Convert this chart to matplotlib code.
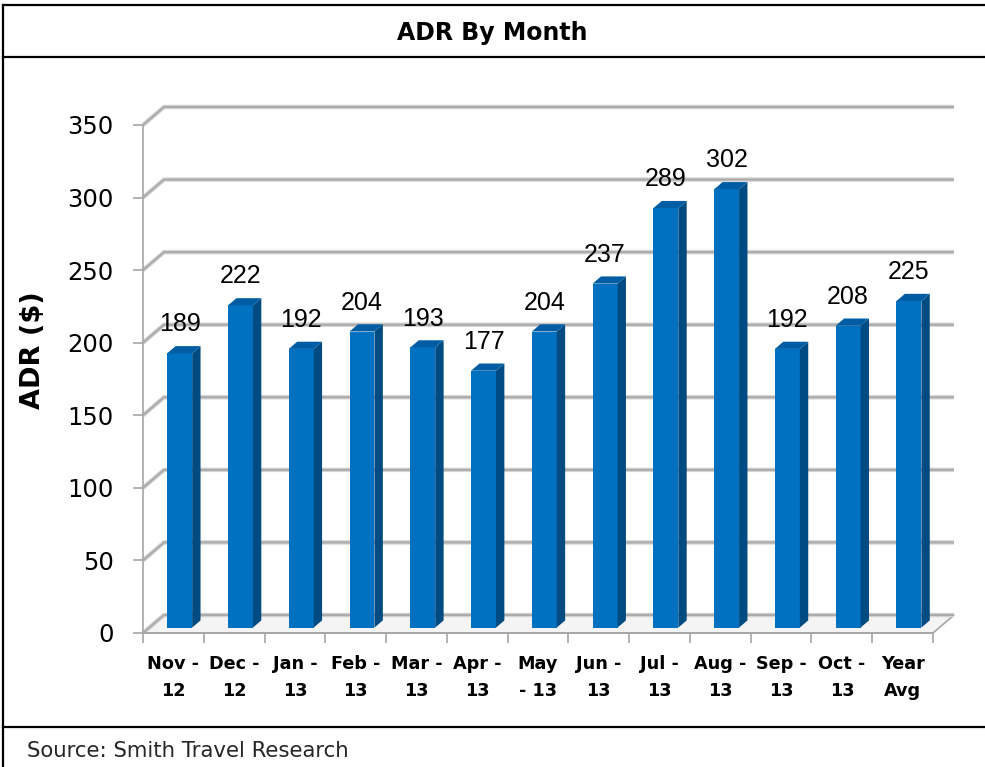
import matplotlib.pyplot as plt
from matplotlib.lines import Line2D
from matplotlib.patches import Polygon
import numpy as np

# data
months = ["Nov -\n12", "Dec -\n12", "Jan -\n13", "Feb -\n13", "Mar -\n13", "Apr -\n13",
          "May\n- 13", "Jun -\n13", "Jul -\n13", "Aug -\n13", "Sep -\n13", "Oct -\n13",
          "Year\nAvg"]
adr = [189, 222, 192, 204, 193, 177, 204, 237, 289, 302, 192, 208, 225]
y_ticks = [0, 50, 100, 150, 200, 250, 300, 350]

W, H = 985, 767
FRONT = '#0070C0'
SIDE = '#004B82'
TOP = '#005DA3'
GRID = '#A6A6A6'

fig = plt.figure(figsize=(W / 100, H / 100), dpi=100)

# outer frame, title box and source box
for x0, y0, x1, y1 in [(3, 5, 985, 5), (3, 5, 3, 767), (3, 57, 985, 57), (3, 727, 985, 727)]:
    fig.add_artist(Line2D([x0 / W, x1 / W], [1 - y0 / H, 1 - y1 / H], color='black', lw=1.6))

fig.text(492 / W, 1 - 33 / H, "ADR By Month", ha='center', va='center',
         fontsize=17, fontweight='bold', family='DejaVu Sans')
fig.text(27 / W, 1 - 751 / H, "Source: Smith Travel Research", ha='left', va='center',
         fontsize=15.3, color='#262626', family='DejaVu Sans')
fig.text(33 / W, 1 - 350 / H, "ADR ($)", ha='center', va='center', rotation=90,
         fontsize=19.5, fontweight='bold', family='DejaVu Sans')

ax_l, ax_r, ax_t, ax_b = 143, 933, 125, 633
ax = fig.add_axes([ax_l / W, 1 - ax_b / H, (ax_r - ax_l) / W, (ax_b - ax_t) / H])
n = len(adr)
ax.set_xlim(-0.5, n - 0.5)
ax.set_ylim(0, 350)
ax.patch.set_alpha(0)

# depth offsets of the 3d look, in data units
DX = 21 / ((ax_r - ax_l) / n)
DY = 18 * 350 / (ax_b - ax_t)

# floor
floor = Polygon([(-0.5, 0), (n - 0.5, 0), (n - 0.5 + DX, DY), (-0.5 + DX, DY)],
                closed=True, facecolor='#F4F4F4', edgecolor=GRID, lw=1.2,
                clip_on=False, zorder=1)
ax.add_patch(floor)

# back wall gridlines plus side wall diagonals
for v in y_ticks:
    ax.plot([-0.5, -0.5 + DX, n - 0.5 + DX], [v, v + DY, v + DY], color='#D4D4D4',
            lw=3.2, clip_on=False, zorder=1, solid_capstyle='butt')
    ax.plot([-0.5, -0.5 + DX, n - 0.5 + DX], [v, v + DY, v + DY], color='#ABABAB',
            lw=1.5, clip_on=False, zorder=1.1, solid_capstyle='butt')

# bars
d0, d1 = 0.3, 0.7
bw = 0.41
ddx, ddy = (d1 - d0) * DX, (d1 - d0) * DY
x = np.arange(n)
xf = x + d0 * DX
ax.bar(xf, adr, width=bw, bottom=d0 * DY, color=FRONT, zorder=3, clip_on=False)
for xc, v in zip(xf, adr):
    xl, xr = xc - bw / 2, xc + bw / 2
    b, t = d0 * DY, d0 * DY + v
    ax.add_patch(Polygon([(xr, b), (xr + ddx, b + ddy), (xr + ddx, t + ddy), (xr, t)],
                         closed=True, facecolor=SIDE, edgecolor='none', zorder=3, clip_on=False))
    ax.add_patch(Polygon([(xl, t), (xr, t), (xr + ddx, t + ddy), (xl + ddx, t + ddy)],
                         closed=True, facecolor=TOP, edgecolor='none', zorder=3, clip_on=False))
    ax.text(xc, t + ddy + 15, str(v), ha='center', va='center', fontsize=18,
            family=['Liberation Sans Narrow', 'Liberation Sans'], zorder=4, clip_on=False)

# axes
for s in ['top', 'right']:
    ax.spines[s].set_visible(False)
for s in ['left', 'bottom']:
    ax.spines[s].set_color(GRID)
    ax.spines[s].set_linewidth(1.2)

ax.set_yticks(y_ticks)
ax.set_yticklabels([str(v) for v in y_ticks], family='DejaVu Sans', fontsize=17.5)
ax.tick_params(axis='y', length=7, width=1.2, color=GRID, pad=14)

ax.set_xticks(np.arange(n + 1) - 0.5)
ax.set_xticklabels([])
ax.tick_params(axis='x', which='major', length=7, width=1.2, color=GRID)
ax.set_xticks(x, minor=True)
ax.set_xticklabels(months, minor=True, fontsize=12.7, fontweight='bold',
                   family='DejaVu Sans', linespacing=1.6, va='top')
ax.tick_params(axis='x', which='minor', length=0, pad=16)

fig.savefig('out.png', dpi=100)
